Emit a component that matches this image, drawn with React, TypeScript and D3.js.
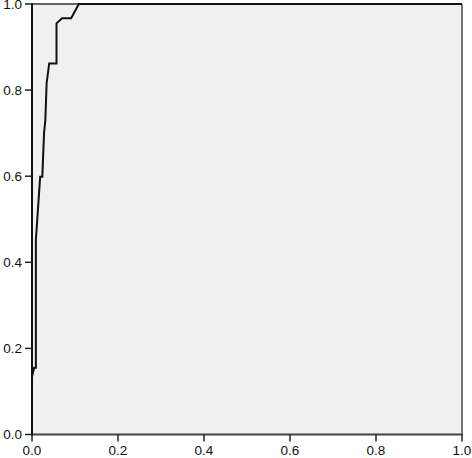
import React from "react";
import * as d3 from "d3";

// ROC curve points
const fpr = [0, 0, 0.005, 0.009, 0.009, 0.019, 0.024, 0.028, 0.031, 0.034, 0.04, 0.057, 0.057, 0.07, 0.091, 0.109, 1];
const tpr = [0, 0.134, 0.155, 0.155, 0.452, 0.599, 0.599, 0.7, 0.73, 0.816, 0.862, 0.862, 0.955, 0.967, 0.967, 1, 1];
const ticks = [0, 0.2, 0.4, 0.6, 0.8, 1.0];

const W = 472;
const H = 458;
const left = 32;
const right = 462;
const top = 4;
const bottom = 434.5;

export default function App() {
  const x = d3.scaleLinear().domain([0, 1]).range([left, right]);
  const y = d3.scaleLinear().domain([0, 1]).range([bottom, top]);
  const points: [number, number][] = fpr.map((f, i) => [f, tpr[i]]);
  const line = d3
    .line<[number, number]>()
    .x((d) => x(d[0]))
    .y((d) => y(d[1]));

  const font = "Liberation Sans, Arial, sans-serif";

  return (
    <svg
      width={W}
      height={H}
      style={{ position: "absolute", left: 0, top: 0, background: "#fff" }}
    >
      <rect x={left} y={top} width={right - left} height={bottom - top} fill="#f0f0f0" />
      {/* frame top / right */}
      <line x1={left} x2={right} y1={top} y2={top} stroke="#666" strokeWidth={2} />
      <line x1={right} x2={right} y1={top} y2={bottom} stroke="#777" strokeWidth={2} />

      <path d={line(points) || ""} fill="none" stroke="#111" strokeWidth={2} strokeLinejoin="miter" />

      {/* axes */}
      <line x1={left} x2={right + 1} y1={bottom} y2={bottom} stroke="#444" strokeWidth={2} />
      <line x1={left} x2={left} y1={top - 1} y2={bottom + 1} stroke="#111" strokeWidth={2} />

      {ticks.map((t) => (
        <g key={"y" + t}>
          <line x1={left - 7} x2={left} y1={y(t)} y2={y(t)} stroke="#222" strokeWidth={1.5} />
          <text
            x={22}
            y={y(t)}
            dy="0.35em"
            textAnchor="end"
            fontFamily={font}
            fontSize={13.5}
            fill="#111"
          >
            {t.toFixed(1)}
          </text>
        </g>
      ))}
      {ticks.map((t) => (
        <g key={"x" + t}>
          <line x1={x(t)} x2={x(t)} y1={bottom} y2={bottom + 7} stroke="#222" strokeWidth={1.5} />
          <text
            x={x(t)}
            y={455}
            textAnchor="middle"
            fontFamily={font}
            fontSize={13.5}
            fill="#111"
          >
            {t.toFixed(1)}
          </text>
        </g>
      ))}
    </svg>
  );
}
